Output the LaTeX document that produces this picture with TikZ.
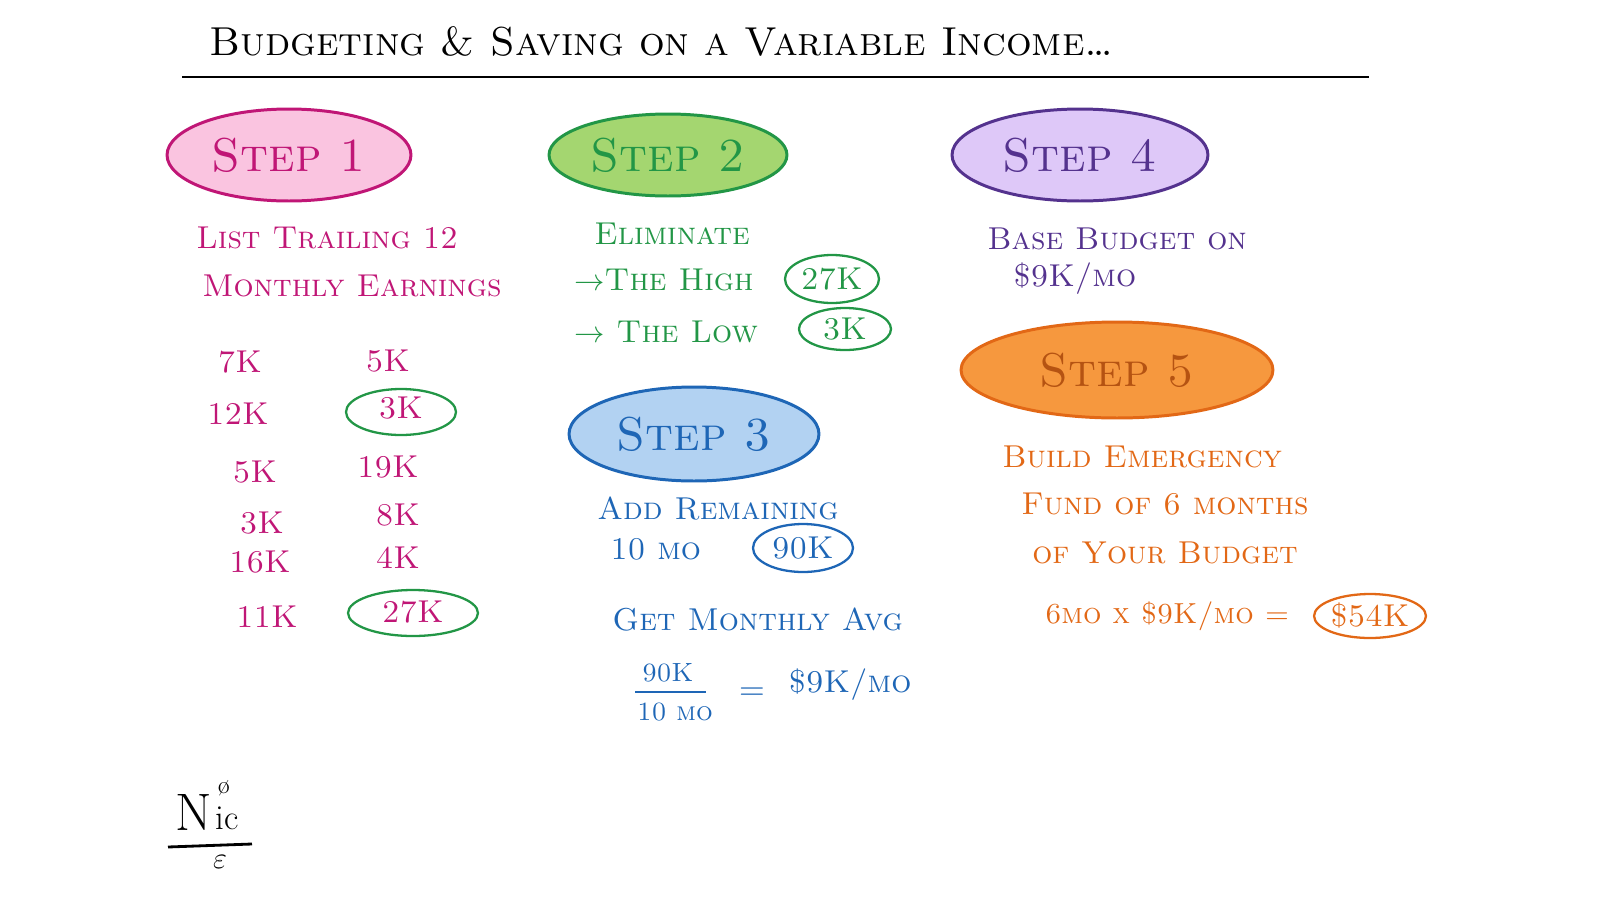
\documentclass[tikz,border=0pt]{standalone}
\usepackage{fontspec}
\usetikzlibrary{shapes.geometric}
\definecolor{pinkink}{RGB}{192,22,118}
\definecolor{pinkfill}{RGB}{250,196,224}
\definecolor{greenink}{RGB}{34,150,70}
\definecolor{greenfill}{RGB}{164,214,112}
\definecolor{blueink}{RGB}{30,102,182}
\definecolor{bluefill}{RGB}{178,210,242}
\definecolor{purpleink}{RGB}{84,50,142}
\definecolor{purplefill}{RGB}{222,200,248}
\definecolor{orangeink}{RGB}{226,104,22}
\definecolor{orangefill}{RGB}{246,152,62}

\begin{document}
\begin{tikzpicture}[
  x=0.02cm, y=-0.02cm,
  every node/.style={inner sep=0pt, font=\scshape\fontsize{18}{20}\selectfont},
  stepblob/.style={ellipse, line width=1.7pt, font=\scshape\fontsize{27}{29}\selectfont},
  ring/.style={ellipse, draw, line width=1.3pt},
  entry/.style={anchor=west},
  num/.style={anchor=center}
]
\useasboundingbox (0,0) rectangle (1600,900);

\node[anchor=west, font=\scshape\fontsize{23}{25}\selectfont] (title) at (209,41) {Budgeting \& Saving on a Variable Income\ldots};
\draw[line width=1.4pt] (182,77) -- (1369,77);

\node[stepblob, draw=pinkink, fill=pinkfill, text=pinkink, minimum width=4.88cm, minimum height=1.84cm] (step1) at (289,155) {Step 1};
\node[stepblob, draw=greenink, fill=greenfill, text=greenink, minimum width=4.76cm, minimum height=1.64cm] (step2) at (668,155) {Step 2};
\node[stepblob, draw=purpleink, fill=purplefill, text=purpleink, minimum width=5.12cm, minimum height=1.84cm] (step4) at (1080,155) {Step 4};
\node[stepblob, draw=blueink, fill=bluefill, text=blueink, minimum width=5.0cm, minimum height=1.88cm] (step3) at (694,434) {Step 3};
\node[stepblob, draw=orangeink, fill=orangefill, text=orangeink!80!black, minimum width=6.24cm, minimum height=1.92cm] (step5) at (1117,370) {Step 5};

\begin{scope}[text=pinkink]
\node[entry] (list1) at (196,238) {List Trailing 12};
\node[entry] (list2) at (202,286) {Monthly Earnings};
\node[num] (m1)  at (240,362) {7K};
\node[num] (m2)  at (238,414) {12K};
\node[num] (m3)  at (255,472) {5K};
\node[num] (m4)  at (262,523) {3K};
\node[num] (m5)  at (260,562) {16K};
\node[num] (m6)  at (267,617) {11K};
\node[num] (m7)  at (388,361) {5K};
\node[num] (m8)  at (401,408) {3K};
\node[num] (m9)  at (388,467) {19K};
\node[num] (m10) at (398,515) {8K};
\node[num] (m11) at (398,558) {4K};
\node[num] (m12) at (413,612) {27K};
\end{scope}
\node[ring, draw=greenink, minimum width=2.2cm, minimum height=0.92cm] (lowring) at (401,412) {};
\node[ring, draw=greenink, minimum width=2.6cm, minimum height=0.92cm] (highring) at (413,613) {};

\begin{scope}[text=greenink]
\node[entry] (elim) at (594,234) {Eliminate};
\node[entry] (high) at (574,280) {$\rightarrow$The High};
\node[entry] (low)  at (574,332) {$\rightarrow$ The Low};
\node[ring, draw=greenink, minimum width=1.88cm, minimum height=0.96cm] (highval) at (832,279) {27K};
\node[ring, draw=greenink, minimum width=1.84cm, minimum height=0.84cm] (lowval) at (845,329) {3K};
\end{scope}

\begin{scope}[text=blueink]
\node[entry] (add)  at (597,509) {Add Remaining};
\node[entry] (ten)  at (610,549) {10 mo};
\node[ring, draw=blueink, minimum width=2.0cm, minimum height=0.96cm] (sum) at (803,548) {90K};
\node[entry] (avg)  at (612,620) {Get Monthly Avg};
\node[num, font=\scshape\fontsize{15}{17}\selectfont] (numer) at (668,673) {90K};
\node[num, font=\scshape\fontsize{15}{17}\selectfont] (denom) at (675,712) {10 mo};
\coordinate (barl) at (635,692);
\coordinate (barr) at (706,692);
\draw[blueink, line width=1.2pt] (barl) -- (barr);
\node[num] (eq)  at (752,694) {=};
\node[num] (res) at (850,685) {\$9K/mo};
\end{scope}

\begin{scope}[text=purpleink]
\node[entry] (base1) at (987,239) {Base Budget on};
\node[entry] (base2) at (1013,279) {\$9K/mo};
\end{scope}

\begin{scope}[text=orangeink]
\node[entry] (fund1) at (1002,457) {Build Emergency};
\node[entry] (fund2) at (1021,504) {Fund of 6 months};
\node[entry] (fund3) at (1032,553) {of Your Budget};
\node[entry, font=\scshape\fontsize{16.5}{18}\selectfont] (calc) at (1045,616) {6mo x \$9K/mo =};
\node[ring, draw=orangeink, minimum width=2.16cm, minimum height=0.88cm] (total) at (1370,616) {\$54K};
\end{scope}

\node[anchor=west, font=\fontsize{30}{32}\selectfont] (sigN) at (175,812) {N};
\node[anchor=west, font=\fontsize{20}{22}\selectfont] (sigic) at (215,818) {ic};
\node[font=\fontsize{14}{16}\selectfont] (sigo) at (224,788) {ø};
\draw[line width=1.6pt] (168,847) -- (252,844);
\node[font=\fontsize{16}{18}\selectfont] (sige) at (220,862) {$\varepsilon$};
\end{tikzpicture}
\end{document}
